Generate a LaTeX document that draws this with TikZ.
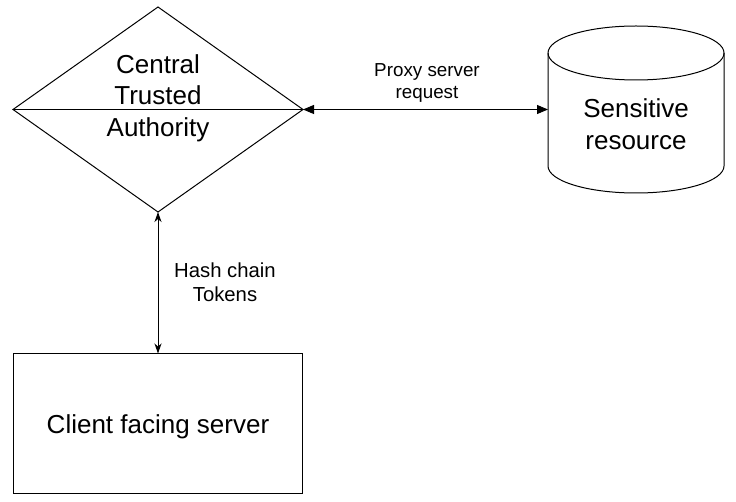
\documentclass[tikz,border=0pt]{standalone}
\usepackage{fontspec}
\setmainfont{Liberation Sans}
\usetikzlibrary{arrows.meta}
\begin{document}
\begin{tikzpicture}[x=1pt,y=-1pt,
  shapeline/.style={line width=1pt, draw=black},
  bigtext/.style={font=\fontsize{26}{31.5}\selectfont, align=center, inner sep=0pt},
  smalltext/.style={font=\fontsize{18.8}{22.5}\selectfont, align=center, inner sep=0pt},
  hashtext/.style={font=\fontsize{20.3}{24}\selectfont, align=center, inner sep=0pt},
  blockarrow/.style={line width=1pt, {Triangle[length=11pt,width=9pt]}-{Triangle[length=11pt,width=9pt]}},
  classicarrow/.style={line width=1pt, {Stealth[length=10pt,width=7pt,inset=3pt]}-{Stealth[length=10pt,width=7pt,inset=3pt]}}
]
\useasboundingbox (0,0) rectangle (736,502);
% Diamond bounds
\node[minimum width=290pt, minimum height=205pt, inner sep=0pt, outer sep=0pt] (cta) at (158,109.5) {};
\draw[shapeline] (cta.west) -- (cta.north) -- (cta.east) -- (cta.south) -- cycle;
\draw[shapeline] (cta.west) -- (cta.east);
\node[bigtext] (ctatext) at (158,98) {Central\\Trusted\\Authority};
% Cylinder
\node[minimum width=176pt, minimum height=167pt, inner sep=0pt, outer sep=0pt] (res) at (636,109.5) {};
\draw[shapeline, fill=white] (548,53) -- (548,166) arc[start angle=180, end angle=0, x radius=88, y radius=27] -- (724,53);
\draw[shapeline] (636,53) ellipse [x radius=88, y radius=27];
\node[bigtext] (restext) at (636,124) {Sensitive\\resource};
% Rectangle
\node[shapeline, minimum width=289pt, minimum height=139pt, inner sep=0pt] (cfs) at (158,423.5) {};
\node[bigtext] (cfstext) at (158,427) {Client facing server};
% Connectors
\draw[blockarrow] (cta.east) -- (res.west);
\draw[classicarrow] (cta.south) -- (cfs.north);
% Labels
\node[smalltext] (proxy) at (427,83) {Proxy server\\request};
\node[hashtext] (hash) at (225,282) {Hash chain\\Tokens};
\end{tikzpicture}
\end{document}
